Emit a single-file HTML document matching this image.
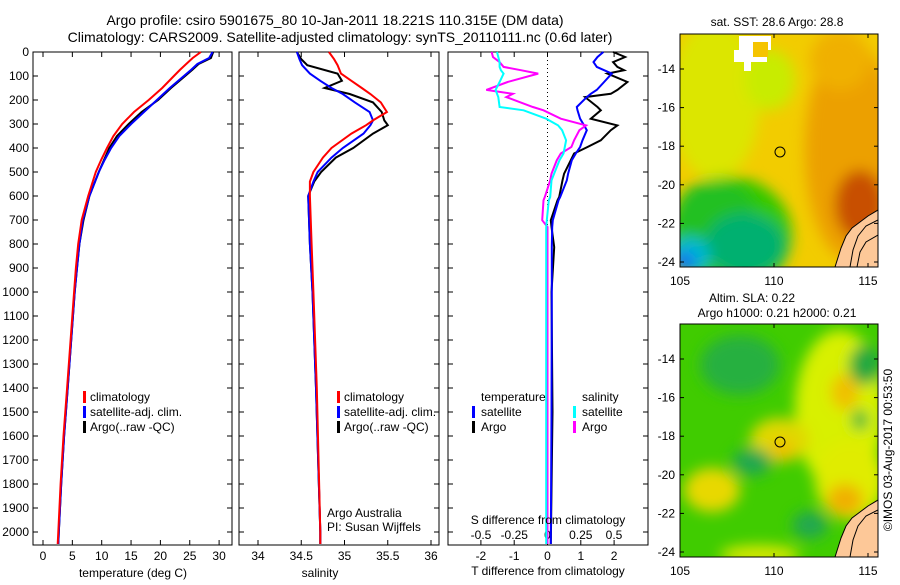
<!DOCTYPE html>
<html><head><meta charset="utf-8"><style>
body{margin:0;background:#fff}
svg text{font-family:"Liberation Sans",sans-serif;font-size:12px;fill:#000}
</style></head><body>
<svg id="fig" width="900" height="580" viewBox="0 0 900 580" xmlns="http://www.w3.org/2000/svg">
<defs>
<filter id="bl" x="-20%" y="-20%" width="140%" height="140%"><feGaussianBlur stdDeviation="7"/></filter>
<clipPath id="c1"><rect x="680" y="34" width="198" height="233"/></clipPath>
<clipPath id="c2"><rect x="680" y="324" width="198" height="233"/></clipPath>
</defs>
<text x="335" y="25" text-anchor="middle" style="font-size:14px">Argo profile: csiro 5901675_80 10-Jan-2011 18.221S 110.315E (DM data)</text>
<text x="340" y="42" text-anchor="middle" style="font-size:14px">Climatology: CARS2009. Satellite-adjusted climatology: synTS_20110111.nc (0.6d later)</text>

<g clip-path="url(#c1)">
<rect x="680" y="34" width="198" height="233" fill="#f2cc00"/>
<g filter="url(#bl)">
<ellipse cx="715" cy="100" rx="45" ry="80" fill="#dce600"/>
<ellipse cx="770" cy="80" rx="25" ry="30" fill="#c8ec00"/>
<ellipse cx="850" cy="150" rx="45" ry="110" fill="#eca000"/>
<ellipse cx="840" cy="60" rx="30" ry="30" fill="#f0b000"/>
<ellipse cx="860" cy="205" rx="25" ry="35" fill="#c85000"/>
<ellipse cx="730" cy="235" rx="62" ry="58" fill="#30c800"/>
<ellipse cx="715" cy="215" rx="40" ry="35" fill="#20c020"/>
<ellipse cx="745" cy="245" rx="40" ry="32" fill="#00b070"/>
<ellipse cx="690" cy="255" rx="20" ry="18" fill="#00b8d0"/>
<ellipse cx="684" cy="262" rx="12" ry="10" fill="#1070f0"/>
</g>
<path d="M739 36 H771 V50 H767 V62 H751 V71 H744 V62 H734 V50 H739Z" fill="#fff"/>
<rect x="753" y="42" width="15" height="15" fill="#f5c400"/>
<polygon points="835,267 841,248 846,236 852,228 860,222 868,216 878,210 878,267" fill="#fdc898" stroke="#000" stroke-width="1"/>
<polyline points="850,267 853,250 858,236 866,226 878,220" fill="none" stroke="#000"/>
<polyline points="857,267 860,252 866,242 878,235" fill="none" stroke="#000"/>
</g>
<rect x="680" y="34" width="198" height="233" fill="none" stroke="#000"/>
<circle cx="780" cy="152" r="5" fill="none" stroke="#000"/>
<text x="777" y="26" text-anchor="middle">sat. SST: 28.6 Argo: 28.8</text>

<g clip-path="url(#c2)">
<rect x="680" y="324" width="198" height="233" fill="#40cc00"/>
<g filter="url(#bl)">
<ellipse cx="840" cy="410" rx="45" ry="80" fill="#d8f000"/>
<ellipse cx="850" cy="480" rx="35" ry="40" fill="#e0ec00"/>
<ellipse cx="845" cy="392" rx="14" ry="18" fill="#f0c000"/>
<ellipse cx="845" cy="500" rx="18" ry="16" fill="#f0b000"/>
<ellipse cx="712" cy="490" rx="28" ry="22" fill="#e8d800"/>
<ellipse cx="780" cy="440" rx="30" ry="22" fill="#e0d800"/>
<ellipse cx="782" cy="450" rx="12" ry="10" fill="#f0c000"/>
<ellipse cx="760" cy="555" rx="40" ry="10" fill="#d8e800"/>
<ellipse cx="740" cy="365" rx="40" ry="30" fill="#28b040"/>
<ellipse cx="865" cy="365" rx="16" ry="20" fill="#22a840"/>
<ellipse cx="860" cy="420" rx="8" ry="10" fill="#22b040"/>
<ellipse cx="752" cy="462" rx="20" ry="14" fill="#22a850"/>
<ellipse cx="810" cy="525" rx="18" ry="14" fill="#22a850"/>
</g>
<polygon points="835,557 841,538 846,526 852,518 860,512 868,506 878,500 878,557" fill="#fdc898" stroke="#000"/>
<polyline points="850,557 853,540 858,526 866,516 878,510" fill="none" stroke="#000"/>
</g>
<rect x="680" y="324" width="198" height="233" fill="none" stroke="#000"/>
<circle cx="780" cy="442" r="5" fill="none" stroke="#000"/>
<text x="752" y="302" text-anchor="middle">Altim. SLA: 0.22</text>
<text x="777" y="317" text-anchor="middle">Argo h1000: 0.21 h2000: 0.21</text>
<text transform="translate(892,450) rotate(-90)" text-anchor="middle">©IMOS 03-Aug-2017 00:53:50</text>
<g id="plots"></g>
</svg>
<script>
// ---- data ----
const tDepth = [0,25,50,75,100,150,200,250,300,350,400,450,500,600,700,800,900,1000,1200,1400,1600,1800,2000,2050];
const tClim  = [26.9,25.5,24.4,23.3,22.3,20.3,18.0,15.5,13.5,12.0,10.9,9.9,9.0,7.7,6.6,6.0,5.6,5.3,4.7,4.1,3.5,3.0,2.6,2.5];
const tSat   = [28.9,28.3,26.3,25.2,24.0,21.6,19.4,17.2,15.0,13.0,11.6,10.5,9.5,7.9,6.8,6.2,5.8,5.4,4.8,4.2,3.6,3.1,2.7,2.6];
const tArgo  = [29.0,28.6,26.5,25.4,24.2,21.8,19.6,16.8,14.6,12.6,11.3,10.4,9.5,7.9,6.9,6.2,5.8,5.4,4.8,4.2,3.6,3.1,2.7,2.6];
const sDepth = [0,30,55,90,120,150,175,210,250,285,305,340,400,440,500,540,600,800,1000,1400,2000,2050];
const sClim  = [34.82,34.88,34.92,34.96,35.08,35.2,35.3,35.42,35.49,35.33,35.25,35.08,34.85,34.75,34.64,34.6,34.6,34.62,34.64,34.68,34.72,34.72];
const sSat   = [34.45,34.48,34.51,34.6,34.72,34.85,34.98,35.12,35.29,35.33,35.3,35.22,34.98,34.85,34.69,34.64,34.58,34.6,34.63,34.67,34.72,34.72];
const sArgo  = [34.45,34.5,34.57,34.92,34.97,34.77,35.06,35.33,35.43,35.46,35.5,35.33,35.1,34.9,34.73,34.65,34.58,34.6,34.63,34.67,34.72,34.72];
const dDepth = [0,21,42,62,76,90,125,158,174,188,229,243,278,306,326,368,396,423,451,507,535,604,618,701,729,813,1000,1500,2050];
const dTSat  = [1.68,1.5,1.38,1.48,1.7,1.93,1.7,1.48,1.3,1.18,0.88,0.9,0.98,1.1,1.18,1.05,0.98,0.85,0.73,0.62,0.58,0.38,0.33,0.16,0.14,0.13,0.13,0.12,0.1];
const dTArgo = [1.97,2.33,1.97,2.1,2.3,1.8,2.4,2.1,1.9,1.13,1.5,1.6,1.3,2.1,1.9,1.6,1.2,0.8,0.7,0.5,0.45,0.35,0.3,0.1,0.12,0.2,0.12,0.15,0.1];
const dSSat  = [-0.38,-0.37,-0.36,-0.36,-0.35,-0.33,-0.36,-0.39,-0.38,-0.37,-0.36,-0.18,-0.01,0.08,0.11,0.14,0.13,0.12,0.09,0.05,0.03,0.02,0.01,-0.005,-0.01,-0.01,-0.01,-0.01,-0.01];
const dSArgo = [-0.42,-0.41,-0.36,-0.33,-0.2,-0.07,-0.3,-0.46,-0.26,-0.31,-0.11,-0.03,0.1,0.29,0.24,0.2,0.18,0.1,0.07,0.03,0.02,-0.02,-0.03,-0.04,0.0,0.0,0.0,0.0,0.0];
const depthTicks = [0,100,200,300,400,500,600,700,800,900,1000,1100,1200,1300,1400,1500,1600,1700,1800,1900,2000];
const tTicks = [0,5,10,15,20,25,30];
const sTicks = [34,34.5,35,35.5,36];
const dTTicks = [-2,-1,0,1,2];
const dSTicks = [-0.5,-0.25,0,0.25,0.5];
const latTicks = [-14,-16,-18,-20,-22,-24];
const lonTicks = [105,110,115];

// ---- scales ----
const yD = d => 52 + d*0.24;
const xT = v => 43 + v*5.87;
const xS = v => 258 + (v-34)*86.5;
const xDT = v => 547.5 + v*33.3;
const xDS = v => 547.5 + v*133;
const NS = 'http://www.w3.org/2000/svg';
const root = document.getElementById('plots');
function mk(tag, attrs, parent){const e=document.createElementNS(NS,tag);for(const k in attrs)e.setAttribute(k,attrs[k]);(parent||root).appendChild(e);return e;}
function series(xs, ds, fx, color, name){
  const pts = xs.map((v,i)=>fx(v).toFixed(1)+','+yD(ds[i]).toFixed(1)).join(' ');
  const p = mk('polyline',{points:pts,fill:'none',stroke:color,'stroke-width':2});
  
  
}
function frame(x0,x1,name){
  const r = mk('rect',{x:x0,y:52,width:x1-x0,height:493,fill:'none',stroke:'#000'});
  
  
  depthTicks.forEach(d=>{mk('line',{x1:x0,x2:x0+5,y1:yD(d),y2:yD(d),stroke:'#000'});mk('line',{x1:x1,x2:x1-5,y1:yD(d),y2:yD(d),stroke:'#000'});});
}
function xticks(vals,fx,labY,fmt){
  vals.forEach(v=>{const x=fx(v);mk('line',{x1:x,x2:x,y1:52,y2:57,stroke:'#000'});mk('line',{x1:x,x2:x,y1:545,y2:540,stroke:'#000'});
    if(labY){const t=mk('text',{x:x,y:labY,'text-anchor':'middle'});t.textContent=fmt?fmt(v):String(v);
      
      }});
}
function label(x,y,s,anchor,name){const t=mk('text',{x:x,y:y,'text-anchor':anchor||'start'});t.textContent=s;
  
  return t;}
function legBar(x,y,color,name){const r=mk('rect',{x:x,y:y-6,width:3,height:12,fill:color});
  
  }

// panel 1: temperature
frame(33,232,'temperature-axes');
depthTicks.forEach(d=>{const t=mk('text',{x:29,y:yD(d)+4,'text-anchor':'end'});t.textContent=String(d);
  
  });
xticks(tTicks,xT,560);
label(133,577,'temperature (deg C)','middle','temperature-axis-title');
series(tArgo,tDepth,xT,'#000','temp-argo-line');
series(tSat,tDepth,xT,'#0000ff','temp-satellite-line');
series(tClim,tDepth,xT,'#ff0000','temp-climatology-line');
legBar(83,397,'#f00','legend-climatology-swatch');label(90,401,'climatology','start','legend-climatology');
legBar(83,412,'#00f','legend-satellite-swatch');label(90,416,'satellite-adj. clim.','start','legend-satellite');
legBar(83,427,'#000','legend-argo-swatch');label(90,431,'Argo(..raw -QC)','start','legend-argo');

// panel 2: salinity
frame(239,439,'salinity-axes');
xticks(sTicks,xS,560);
label(320,577,'salinity','middle','salinity-axis-title');
series(sArgo,sDepth,xS,'#000','sal-argo-line');
series(sSat,sDepth,xS,'#0000ff','sal-satellite-line');
series(sClim,sDepth,xS,'#ff0000','sal-climatology-line');
legBar(337,397,'#f00','legend2-climatology-swatch');label(344,401,'climatology','start','legend2-climatology');
legBar(337,412,'#00f','legend2-satellite-swatch');label(344,416,'satellite-adj. clim.','start','legend2-satellite');
legBar(337,427,'#000','legend2-argo-swatch');label(344,431,'Argo(..raw -QC)','start','legend2-argo');
label(327,517,'Argo Australia','start','credit-argo-australia');
label(327,531,'PI: Susan Wijffels','start','credit-pi');

// panel 3: differences
frame(448,648,'difference-axes');
xticks(dTTicks,xDT,560);
dSTicks.forEach(v=>{const t=mk('text',{x:xDS(v),y:539,'text-anchor':'middle'});t.textContent=String(v);
  
  });
mk('line',{x1:xDT(0),x2:xDT(0),y1:52,y2:545,stroke:'#000','stroke-dasharray':'1,3'});
series(dTArgo,dDepth,xDT,'#000','tdiff-argo-line');
series(dTSat,dDepth,xDT,'#0000ff','tdiff-satellite-line');
series(dSArgo,dDepth,xDS,'#ff00ff','sdiff-argo-line');
series(dSSat,dDepth,xDS,'#00ffff','sdiff-satellite-line');
label(481,401,'temperature','start','legend3-temperature-heading');
legBar(472,412,'#00f','legend3-t-satellite-swatch');label(481,416,'satellite','start','legend3-t-satellite');
legBar(472,427,'#000','legend3-t-argo-swatch');label(481,431,'Argo','start','legend3-t-argo');
label(582,401,'salinity','start','legend3-salinity-heading');
legBar(573,412,'#0ff','legend3-s-satellite-swatch');label(582,416,'satellite','start','legend3-s-satellite');
legBar(573,427,'#f0f','legend3-s-argo-swatch');label(582,431,'Argo','start','legend3-s-argo');
label(548,524,'S difference from climatology','middle','s-diff-axis-title');
label(548,575,'T difference from climatology','middle','t-diff-axis-title');

// map axes
const lonX = v => 680 + (v-105)*18.8;
[[0,'sst'],[290,'sla']].forEach(([off,nm])=>{
  latTicks.forEach(v=>{const y=69+(-14-v)*19.3+off;
    mk('line',{x1:680,x2:684,y1:y,y2:y,stroke:'#000'});mk('line',{x1:878,x2:874,y1:y,y2:y,stroke:'#000'});
    const t=mk('text',{x:675,y:y+4,'text-anchor':'end'});t.textContent=String(v);
    
    });
  lonTicks.forEach(v=>{const x=lonX(v);
    mk('line',{x1:x,x2:x,y1:267+off,y2:263+off,stroke:'#000'});mk('line',{x1:x,x2:x,y1:34+off,y2:38+off,stroke:'#000'});
    const t=mk('text',{x:x,y:285+off,'text-anchor':'middle'});t.textContent=String(v);
    
    });
});
</script>
</body></html>
